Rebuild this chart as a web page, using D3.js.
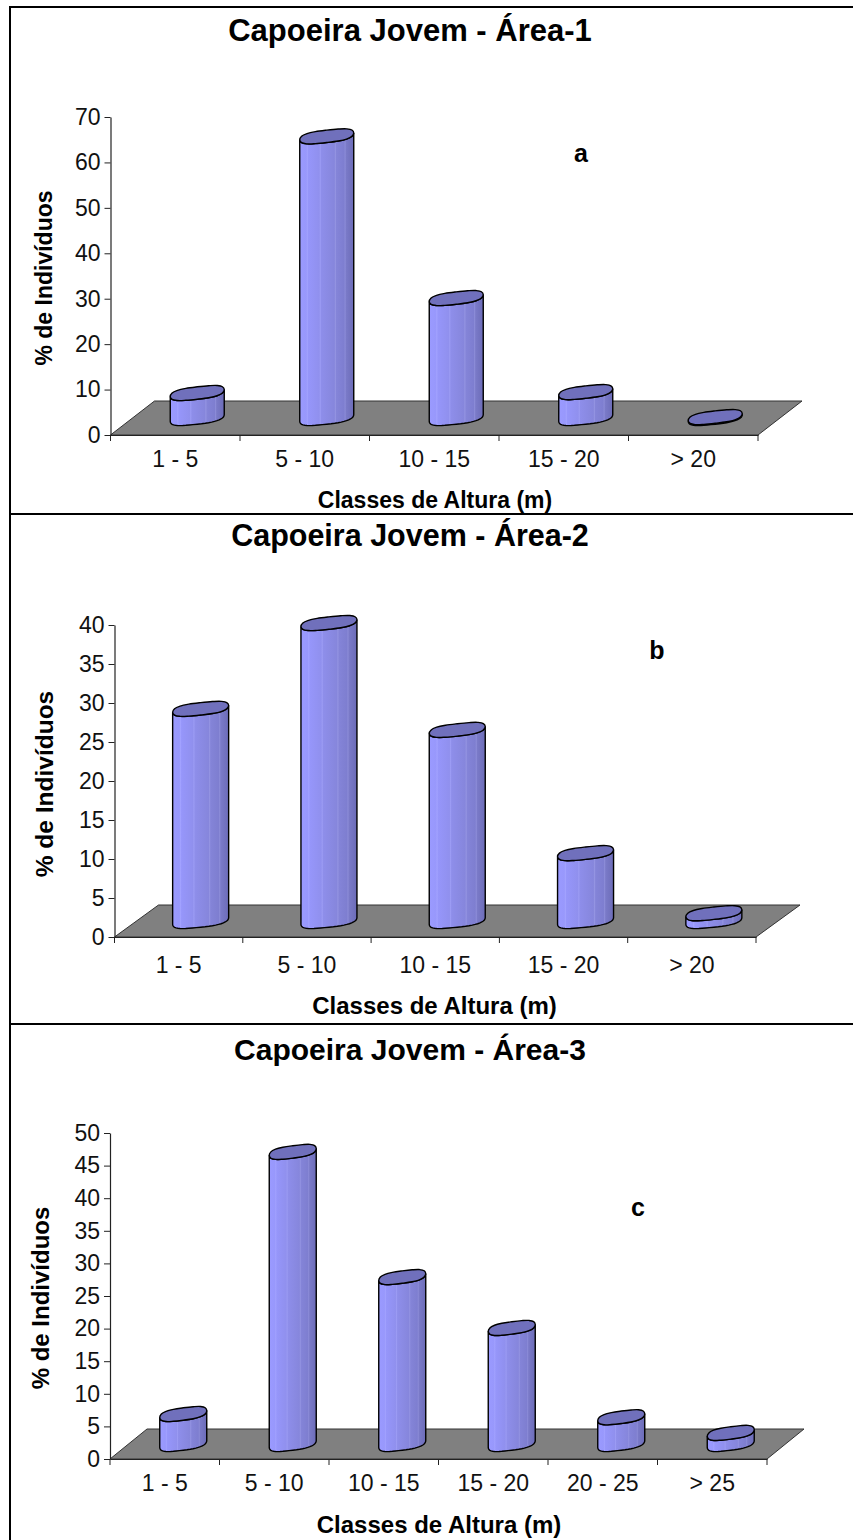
<!DOCTYPE html>
<html>
<head>
<meta charset="utf-8">
<script src="https://cdn.jsdelivr.net/npm/d3@7"></script>
<style>
  html, body { margin: 0; padding: 0; background: #fff; }
  svg { display: block; font-family: "Liberation Sans", Arial, sans-serif; }
</style>
</head>
<body>
<svg id="chart" width="853" height="1540"></svg>
<script>
// values
const titles = ["Capoeira Jovem - Área-1", "Capoeira Jovem - Área-2", "Capoeira Jovem - Área-3"];
const letters = ["a", "b", "c"];
const catsA = ["1 - 5", "5 - 10", "10 - 15", "15 - 20", "> 20"];
const catsB = ["1 - 5", "5 - 10", "10 - 15", "15 - 20", "> 20"];
const catsC = ["1 - 5", "5 - 10", "10 - 15", "15 - 20", "20 - 25", "> 25"];
const valuesA = [5.5, 62, 26.4, 5.7, 0.2];
const valuesB = [27.2, 38.2, 24.5, 8.7, 1];
const valuesC = [4.6, 44.8, 25.6, 17.8, 4.1, 1.7];
const ticksA = [0, 10, 20, 30, 40, 50, 60, 70];
const ticksB = [0, 5, 10, 15, 20, 25, 30, 35, 40];
const ticksC = [0, 5, 10, 15, 20, 25, 30, 35, 40, 45, 50];

// layout per panel
const layouts = [
  { cats: catsA, values: valuesA, ticks: ticksA, title: titles[0], letter: letters[0],
    left: 110.5, right: 758, y0: 435, yTop: 117, dx: 44, dy: 34, rx: 27, xPad: 16, titleX: 410, titleY: 41, titleSize: 31,
    letterX: 581, letterY: 162, xTitleX: 435, xTitleY: 508, xTitleSize: 23, yTitleX: 52, yTitleY: 278, yTitleSize: 23 },
  { cats: catsB, values: valuesB, ticks: ticksB, title: titles[1], letter: letters[1],
    left: 114.5, right: 756, y0: 937, yTop: 625, dx: 44, dy: 32, rx: 28, xPad: 20, titleX: 410, titleY: 546, titleSize: 30.5,
    letterX: 657, letterY: 659, xTitleX: 434.5, xTitleY: 1014, xTitleSize: 24, yTitleX: 52.5, yTitleY: 784, yTitleSize: 24.5 },
  { cats: catsC, values: valuesC, ticks: ticksC, title: titles[2], letter: letters[2],
    left: 110, right: 767, y0: 1459, yTop: 1133, dx: 37, dy: 30, rx: 23.5, xPad: 16, titleX: 410, titleY: 1060, titleSize: 30,
    letterX: 638, letterY: 1216, xTitleX: 439, xTitleY: 1533, xTitleSize: 24, yTitleX: 48.5, yTitleY: 1298, yTitleSize: 24 },
];

const svg = d3.select("#chart");

// stripey shading of the cylinders
const grad = svg.append("defs").append("linearGradient").attr("id", "barFill");
[[0, "#9a9aff"], [0.12, "#9898fc"], [0.14, "#a2a2ff"], [0.16, "#9696fa"], [0.36, "#9090ee"],
 [0.38, "#9c9cf4"], [0.4, "#8e8eea"], [0.64, "#8686dc"], [0.66, "#9494e2"], [0.68, "#8484d8"],
 [0.82, "#7e7ed0"], [0.84, "#8c8cd8"], [0.86, "#7a7ac8"], [1, "#6c6cb8"]].forEach(([o, c]) => {
  grad.append("stop").attr("offset", o).attr("stop-color", c);
});

const lineLinear = d3.line();
const lineBlob = d3.line().curve(d3.curveCatmullRomClosed);

// tilted, slightly lumpy ellipse sitting on the floor plane
const ellipsePoint = (cx, cy, rx, t) => {
  const c = Math.cos(t);
  const s = Math.sin(t);
  const sq = (v) => Math.sign(v) * Math.pow(Math.abs(v), 0.9);
  return [
    cx + rx * sq(c),
    cy - 3.4 * c + 6.6 * sq(s) + 0.4 * Math.sin(3 * t),
  ];
};

function drawPanel(p) {
  const g = svg.append("g");
  const x = d3.scaleBand().domain(p.cats).range([p.left, p.right]);
  const y = d3.scaleLinear().domain([p.ticks[0], p.ticks[p.ticks.length - 1]]).range([p.y0, p.yTop]);

  // floor
  g.append("path")
    .attr("d", lineLinear([[p.left, p.y0], [p.left + p.dx, p.y0 - p.dy], [p.right + p.dx, p.y0 - p.dy], [p.right, p.y0]]) + "Z")
    .attr("fill", "#808080")
    .attr("stroke", "#333")
    .attr("stroke-width", 1);

  // axes
  const yAxis = g.append("g").attr("transform", `translate(${p.left},0)`)
    .call(d3.axisLeft(y).tickValues(p.ticks).tickSize(6).tickSizeOuter(0).tickPadding(4));
  const xAxis = g.append("g").attr("transform", `translate(0,${p.y0})`)
    .call(d3.axisBottom(x).tickSize(0).tickPadding(p.xPad));
  [yAxis, xAxis].forEach((a) => {
    a.selectAll(".domain").attr("stroke", "#222").attr("stroke-width", 1.2);
    a.selectAll(".tick line").attr("stroke", "#222");
    a.selectAll(".tick text").attr("font-size", 23).attr("font-family", "Liberation Sans").attr("fill", "#111");
  });
  // x ticks sit on the band edges
  const edges = p.cats.map((c) => x(c)).concat([p.right]);
  g.selectAll(".xtick").data(edges).join("line")
    .attr("x1", (d) => d).attr("x2", (d) => d)
    .attr("y1", p.y0).attr("y2", p.y0 + 6)
    .attr("stroke", "#222");

  // cylinders
  const baseY = p.y0 - p.dy / 2;
  p.cats.forEach((c, i) => {
    const cx = x(c) + x.bandwidth() / 2 + p.dx / 2;
    const topY = baseY - (p.y0 - y(p.values[i]));
    const n = 24;
    const front = d3.range(n + 1).map((k) => Math.PI - (Math.PI * k) / n);
    const body = front.map((t) => ellipsePoint(cx, baseY, p.rx, t))
      .concat(front.slice().reverse().map((t) => ellipsePoint(cx, topY, p.rx, t)));
    g.append("path")
      .attr("d", lineLinear(body) + "Z")
      .attr("fill", "url(#barFill)")
      .attr("stroke", "#000")
      .attr("stroke-width", 1.4);
    const ring = d3.range(16).map((k) => ellipsePoint(cx, topY, p.rx, (2 * Math.PI * k) / 16));
    g.append("path")
      .attr("d", lineBlob(ring))
      .attr("fill", "#7070bc")
      .attr("stroke", "#000")
      .attr("stroke-width", 1.4);
  });

  // texts
  g.append("text").attr("x", p.titleX).attr("y", p.titleY).attr("text-anchor", "middle")
    .attr("font-size", p.titleSize).attr("font-weight", "bold").text(p.title);
  g.append("text").attr("x", p.letterX).attr("y", p.letterY).attr("text-anchor", "middle")
    .attr("font-size", 25).attr("font-weight", "bold").text(p.letter);
  g.append("text").attr("x", p.xTitleX).attr("y", p.xTitleY).attr("text-anchor", "middle")
    .attr("font-size", p.xTitleSize).attr("font-weight", "bold").text("Classes de Altura (m)");
  g.append("text").attr("text-anchor", "middle")
    .attr("transform", `translate(${p.yTitleX},${p.yTitleY}) rotate(-90)`)
    .attr("font-size", p.yTitleSize).attr("font-weight", "bold").text("% de Indivíduos");
}

layouts.forEach(drawPanel);

// frame
const frameV = [10];
const frameH = [7, 514, 1024];
svg.selectAll(".fv").data(frameV).join("line")
  .attr("x1", (d) => d).attr("x2", (d) => d).attr("y1", 6).attr("y2", 1540)
  .attr("stroke", "#000").attr("stroke-width", 2);
svg.selectAll(".fh").data(frameH).join("line")
  .attr("x1", 9).attr("x2", 853).attr("y1", (d) => d).attr("y2", (d) => d)
  .attr("stroke", "#000").attr("stroke-width", 2);
</script>
</body>
</html>
